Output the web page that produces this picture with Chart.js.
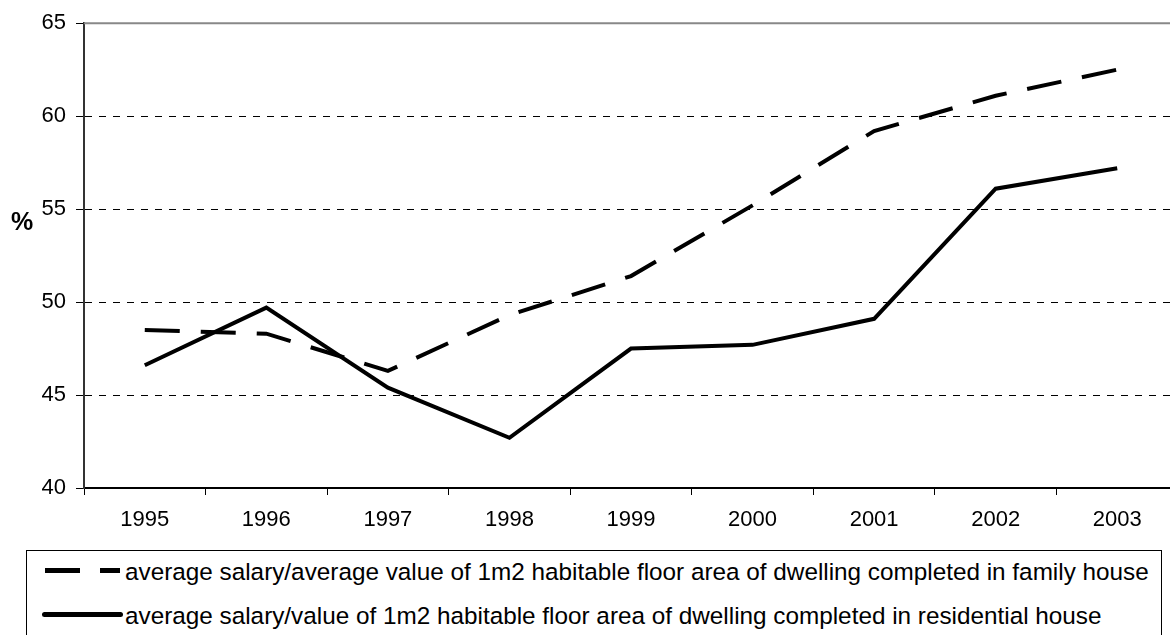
<!DOCTYPE html>
<html>
<head>
<meta charset="utf-8">
<script src="https://cdn.jsdelivr.net/npm/chart.js@4.4.0/dist/chart.umd.min.js"></script>
<style>
  html, body { margin: 0; padding: 0; background: #fff; overflow: hidden; }
  #wrap { position: relative; width: 1178px; height: 635px; }
  #unit { position: absolute; left: 0; top: 207px; width: 44px; text-align: center;
          font: bold 25px "Liberation Sans", Arial, sans-serif; line-height: 28px; color: #000; }
  #legend { position: absolute; left: 26px; top: 550px; width: 1136px; height: 120px;
            border: 1.5px solid #000; box-sizing: border-box; background: #fff;
            font: 24.3px "Liberation Sans", Arial, sans-serif; color: #000; }
  #legend .row { position: absolute; left: 0; right: 0; height: 30px; }
  #legend .sample { position: absolute; height: 5px; }
  #legend .label { position: absolute; left: 98px; top: 0; line-height: 30px; white-space: nowrap; }
</style>
</head>
<body>
<div id="wrap">
  <canvas id="ratioChart"></canvas>
  <div id="unit">%</div>
  <div id="legend"></div>
</div>
<script>
// data
const years = ['1995', '1996', '1997', '1998', '1999', '2000', '2001', '2002', '2003'];
const familyHouse = [48.5, 48.3, 46.3, 49.3, 51.4, 55.2, 59.2, 61.1, 62.5];
const residentialHouse = [46.6, 49.7, 45.4, 42.7, 47.5, 47.7, 49.1, 56.1, 57.2];
const yTicks = [40, 45, 50, 55, 60, 65];
const seriesNames = [
    'average salary/average value of 1m2 habitable floor area of dwelling completed in family house',
    'average salary/value of 1m2 habitable floor area of dwelling completed in residential house'
];

const fontFamily = '"Liberation Sans", Arial, sans-serif';
const lineDash = [35, 21];

// grey top edge of the plot area
const plotTopLine = {
    id: 'plotTopLine',
    beforeDatasetsDraw(chart) {
        const {ctx, chartArea} = chart;
        ctx.save();
        ctx.strokeStyle = '#888';
        ctx.lineWidth = 2;
        ctx.beginPath();
        ctx.moveTo(chartArea.left, chartArea.top);
        ctx.lineTo(chartArea.right, chartArea.top);
        ctx.stroke();
        ctx.restore();
    }
};

const ctx = document.getElementById('ratioChart').getContext('2d');

new Chart(ctx, {
    type: 'line',
    data: {
        labels: years,
        datasets: [{
            label: seriesNames[0],
            data: familyHouse,
            borderColor: '#000',
            borderWidth: 4,
            borderDash: lineDash,
            tension: 0,
            fill: false,
            pointRadius: 0
        }, {
            label: seriesNames[1],
            data: residentialHouse,
            borderColor: '#000',
            borderWidth: 4,
            tension: 0,
            fill: false,
            pointRadius: 0
        }]
    },
    options: {
        responsive: true,
        maintainAspectRatio: false,
        animation: false,
        layout: {
            padding: { top: 21, right: 0, bottom: 0, left: 0 }
        },
        plugins: {
            legend: { display: false },
            tooltip: { enabled: false }
        },
        scales: {
            x: {
                offset: true,
                grid: {
                    offset: true,
                    drawOnChartArea: false,
                    tickLength: 7,
                    color: '#000',
                    lineWidth: 1
                },
                border: { color: '#000', width: 2 },
                ticks: {
                    color: '#000',
                    font: { family: fontFamily, size: 22 },
                    padding: 12,
                    maxRotation: 0,
                    autoSkip: false
                },
                afterFit(scale) { scale.height = 147; }
            },
            y: {
                min: 40,
                max: 65,
                afterBuildTicks(scale) {
                    scale.ticks = yTicks.map(v => ({ value: v }));
                },
                grid: {
                    color: c => (c.tick && c.tick.value === 65) ? 'rgba(0,0,0,0)' : '#000',
                    tickColor: '#000',
                    tickLength: 8,
                    lineWidth: 1
                },
                border: { color: '#333', width: 2, dash: [7, 7] },
                ticks: {
                    color: '#000',
                    font: { family: fontFamily, size: 22 },
                    padding: 10
                },
                afterFit(scale) { scale.width = 84; }
            }
        }
    },
    plugins: [plotTopLine]
});

// legend box below the chart
const legendEl = document.getElementById('legend');
const rowTops = [6, 50];
seriesNames.forEach(function(name, i) {
    const row = document.createElement('div');
    row.className = 'row';
    row.style.top = rowTops[i] + 'px';
    const sample = document.createElement('span');
    sample.className = 'sample';
    sample.style.top = '11px';
    if (i === 0) {
        sample.style.left = '18px';
        sample.style.width = '75px';
        sample.style.background = 'repeating-linear-gradient(to right, #000 0 35px, transparent 35px 55px)';
    } else {
        sample.style.left = '15px';
        sample.style.width = '81px';
        sample.style.background = '#000';
        sample.style.borderRadius = '2.5px';
    }
    const label = document.createElement('span');
    label.className = 'label';
    label.textContent = name;
    row.appendChild(sample);
    row.appendChild(label);
    legendEl.appendChild(row);
});
</script>
</body>
</html>
